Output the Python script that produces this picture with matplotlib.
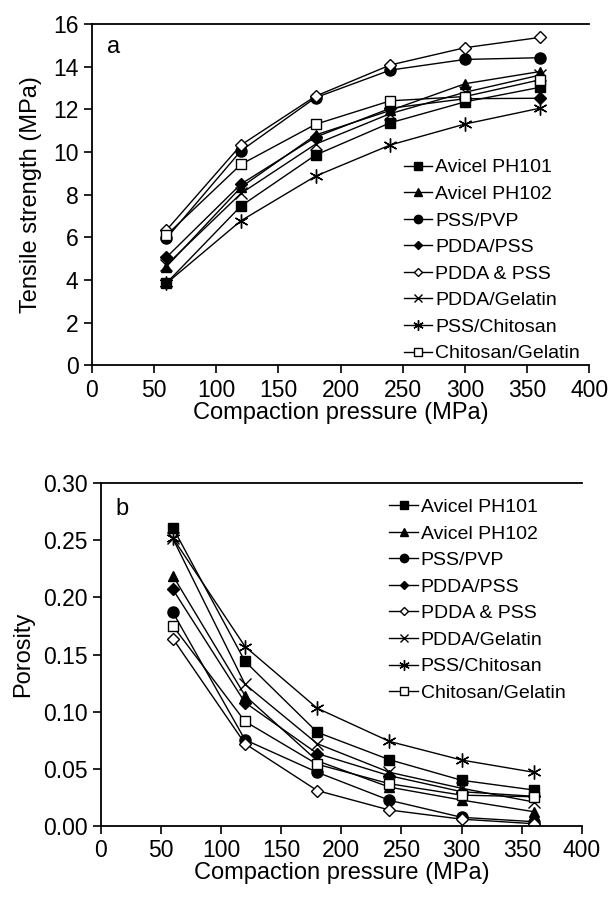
import matplotlib
matplotlib.use("Agg")
import matplotlib.pyplot as plt

plt.rcParams['font.family'] = ['Liberation Sans', 'DejaVu Sans']

# compaction pressure (MPa)
pressure = [60, 120, 180, 240, 300, 360]

labels = ['Avicel PH101', 'Avicel PH102', 'PSS/PVP', 'PDDA/PSS',
          'PDDA & PSS', 'PDDA/Gelatin', 'PSS/Chitosan', 'Chitosan/Gelatin']

# panel a - tensile strength (MPa)
ts_ph101 = [3.85, 7.47, 9.86, 11.37, 12.35, 13.03]
ts_ph102 = [4.62, 8.35, 10.8, 11.95, 13.2, 13.77]
ts_pss_pvp = [5.95, 10.06, 12.55, 13.84, 14.34, 14.42]
ts_pdda_pss = [5.06, 8.5, 10.7, 12.05, 12.5, 12.52]
ts_pdda_and_pss = [6.33, 10.33, 12.62, 14.08, 14.89, 15.37]
ts_pdda_gel = [4.7, 8.06, 10.37, 11.8, 12.8, 13.6]
ts_pss_chit = [3.84, 6.78, 8.87, 10.33, 11.31, 12.05]
ts_chit_gel = [6.1, 9.42, 11.3, 12.4, 12.6, 13.38]

# panel b - porosity
por_ph101 = [0.261, 0.144, 0.082, 0.058, 0.040, 0.0315]
por_ph102 = [0.219, 0.114, 0.057, 0.034, 0.0227, 0.0125]
por_pss_pvp = [0.187, 0.0754, 0.047, 0.0225, 0.0076, 0.0038]
por_pdda_pss = [0.207, 0.108, 0.0634, 0.044, 0.030, 0.026]
por_pdda_and_pss = [0.164, 0.072, 0.031, 0.014, 0.006, 0.002]
por_pdda_gel = [0.2515, 0.124, 0.072, 0.047, 0.033, 0.021]
por_pss_chit = [0.252, 0.157, 0.103, 0.074, 0.0577, 0.047]
por_chit_gel = [0.175, 0.0915, 0.054, 0.037, 0.027, 0.0256]

ts_data = [ts_ph101, ts_ph102, ts_pss_pvp, ts_pdda_pss,
           ts_pdda_and_pss, ts_pdda_gel, ts_pss_chit, ts_chit_gel]
por_data = [por_ph101, por_ph102, por_pss_pvp, por_pdda_pss,
            por_pdda_and_pss, por_pdda_gel, por_pss_chit, por_chit_gel]

# marker, facecolor, size
styles = [('s', 'k', 7), ('^', 'k', 7), ('o', 'k', 8), ('D', 'k', 6),
          ('D', 'w', 6), ('x', 'k', 8), ((6, 2, 0), 'k', 10), ('s', 'w', 7)]


def draw(ax, data):
    for vals, lab, (m, fc, ms) in zip(data, labels, styles):
        ax.plot(pressure, vals, color='k', lw=1.0, marker=m, ms=ms,
                mfc=fc, mec='k', mew=1.0, label=lab)
    ax.set_xlim(0, 400)
    ax.set_xticks(range(0, 401, 50))
    ax.spines['right'].set_visible(False)
    for s in ['top', 'left', 'bottom']:
        ax.spines[s].set_linewidth(1.3)
    ax.tick_params(direction='out', length=6, width=1.2, labelsize=16.5,
                   top=False, right=False)
    ax.set_xlabel('Compaction pressure (MPa)', fontsize=17, labelpad=0)


def add_legend(ax, anchor):
    ax.legend(loc='upper left', bbox_to_anchor=anchor, frameon=False,
              fontsize=14, handlelength=1.45, handletextpad=0.15,
              labelspacing=0.46, borderpad=0, borderaxespad=0,
              markerscale=0.75)


fig = plt.figure(figsize=(6.09, 9.0), dpi=100)

ax1 = fig.add_axes([0.1506, 0.5941, 0.8171, 0.3792])
draw(ax1, ts_data)
ax1.set_ylim(0, 16)
ax1.set_yticks(range(0, 17, 2))
ax1.set_ylabel('Tensile strength (MPa)', fontsize=17, labelpad=8)
ax1.text(0.03, 0.965, 'a', transform=ax1.transAxes, fontsize=17, va='top')
add_legend(ax1, (0.628, 0.605))

ax2 = fig.add_axes([0.1652, 0.0822, 0.7905, 0.3811])
draw(ax2, por_data)
ax2.set_ylim(0, 0.30)
ax2.set_yticks([0.0, 0.05, 0.10, 0.15, 0.20, 0.25, 0.30])
ax2.set_yticklabels(['0.00', '0.05', '0.10', '0.15', '0.20', '0.25', '0.30'])
ax2.set_ylabel('Porosity', fontsize=17, labelpad=6)
ax2.text(0.03, 0.955, 'b', transform=ax2.transAxes, fontsize=17, va='top')
add_legend(ax2, (0.6, 0.955))

plt.savefig('out.png', dpi=100)
